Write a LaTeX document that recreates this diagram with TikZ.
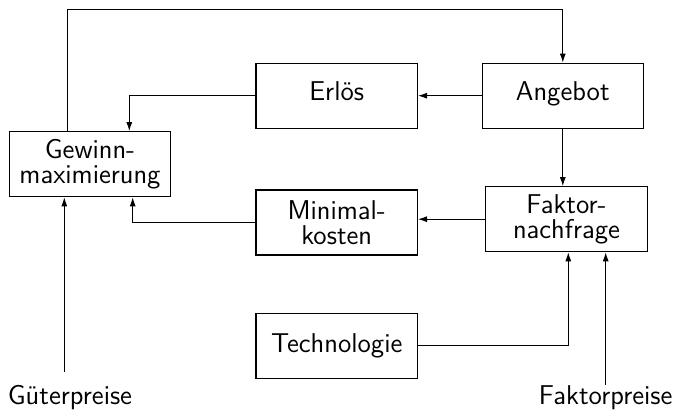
\documentclass[tikz,border=0pt]{standalone}
\usetikzlibrary{arrows.meta,calc}
\begin{document}
\begin{tikzpicture}[x=0.5pt,y=-0.5pt,
	box/.style={draw,line width=0.6pt,minimum width=80.7pt,minimum height=32.5pt,inner sep=0pt,align=center,font=\sffamily\fontsize{13.6}{12.6}\selectfont},
	lbl/.style={anchor=base,inner sep=0pt,font=\sffamily\fontsize{13.6}{12.6}\selectfont},
	pfeil/.style={line width=0.5pt,-{Latex[length=4.5pt,width=3pt]}}]
	\useasboundingbox (0,0) rectangle (676,409);
	% Kaesten
	\node[box] (gewinn) at (90,164.2) {Gewinn-\\maximierung};
	\node[box,text depth=5pt] (erloes) at (336.7,95.7) {Erlös};
	\node[box,text depth=5pt] (angebot) at (562.8,95.7) {Angebot};
	\node[box] (minimal) at (336.7,222.5) {Minimal-\\kosten};
	\node[box] (faktor) at (566.5,219.2) {Faktor-\\nachfrage};
	\node[box] (techno) at (336.7,345.8) {Technologie};
	% Beschriftungen unten
	\node[lbl] (gueter) at (70,404) {Güterpreise};
	\node[lbl] (fpreise) at (605.7,404) {Faktorpreise};
	\coordinate (oben) at (67.7,9.2);
	\coordinate (gstart) at (64.3,371.7);
	\coordinate (fstart) at (605.7,385);
	% Pfeile
	\draw[pfeil] (oben |- gewinn.north) -- (oben) -| (angebot.north);
	\draw[pfeil] (angebot.west) -- (erloes.east);
	\draw[pfeil] (erloes.west) -| ([xshift=19.65pt]gewinn.north);
	\draw[pfeil] (angebot.south) -- (angebot.south |- faktor.north);
	\draw[pfeil] (faktor.west) -- (faktor.west -| minimal.east);
	\draw[pfeil] (minimal.west) -| ([xshift=21.35pt]gewinn.south);
	\draw[pfeil] (techno.east) -| ([xshift=0.9pt]faktor.south);
	\draw[pfeil] (gstart) -- (gstart |- gewinn.south);
	\draw[pfeil] (fstart) -- (fstart |- faktor.south);
\end{tikzpicture}
\end{document}
